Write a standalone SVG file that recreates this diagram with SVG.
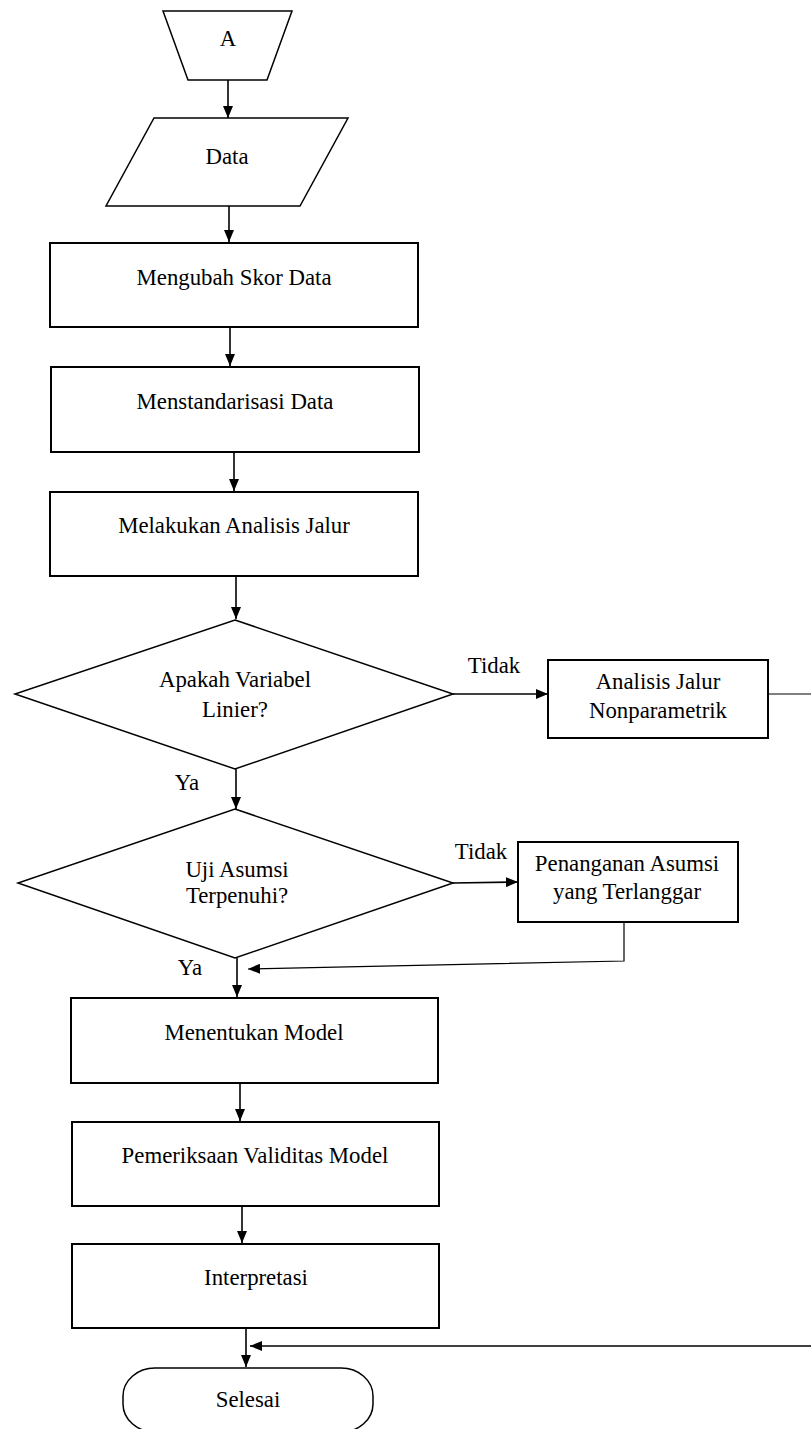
<svg xmlns="http://www.w3.org/2000/svg" width="811" height="1429" viewBox="0 0 811 1429">
<style>
.n{fill:#fff;stroke:#000;stroke-width:2}
.d{fill:#fff;stroke:#000;stroke-width:1.5}
.t{font-family:"Liberation Serif","Times New Roman",serif;font-size:22.8px;fill:#000;text-anchor:middle}
.c{fill:none;stroke:#000;stroke-width:1.6}
.thin{fill:none;stroke:#000;stroke-width:1.2}
</style>
<defs>
<marker id="ah" viewBox="0 0 12 10" refX="12" refY="5" markerWidth="12" markerHeight="10" markerUnits="userSpaceOnUse" orient="auto">
<path d="M0,0 L12,5 L0,10 Z" fill="#000"/>
</marker>
</defs>
<rect width="811" height="1429" fill="#fff"/>
<g id="connectors">
<line class="c" x1="228" y1="80" x2="228" y2="118" marker-end="url(#ah)"/>
<line class="c" x1="229" y1="206" x2="229" y2="242" marker-end="url(#ah)"/>
<line class="c" x1="230" y1="327" x2="230" y2="366" marker-end="url(#ah)"/>
<line class="c" x1="234" y1="452" x2="234" y2="491" marker-end="url(#ah)"/>
<line class="c" x1="236" y1="576" x2="236" y2="619" marker-end="url(#ah)"/>
<line class="c" x1="453" y1="694" x2="548" y2="694" marker-end="url(#ah)"/>
<line class="c" x1="236" y1="769" x2="236" y2="809" marker-end="url(#ah)"/>
<line class="c" x1="453" y1="883" x2="518" y2="882" marker-end="url(#ah)"/>
<polyline class="thin" points="624,922 624,961 248,969" marker-end="url(#ah)"/>
<line class="c" x1="237" y1="958" x2="237" y2="997" marker-end="url(#ah)"/>
<line class="c" x1="240" y1="1083" x2="240" y2="1121" marker-end="url(#ah)"/>
<line class="c" x1="242" y1="1206" x2="242" y2="1243" marker-end="url(#ah)"/>
<line class="c" x1="246" y1="1328" x2="246" y2="1367" marker-end="url(#ah)"/>
<polyline class="thin" points="768,694 814,694 814,1346" />
<polyline class="c" points="814,1346 250,1346" marker-end="url(#ah)"/>
</g>
<g id="start">
<polygon class="d" points="163,11 292,11 267,80 188,80"/>
<text class="t" x="228" y="46">A</text>
</g>
<g id="data">
<polygon class="d" points="154,118 348,118 300,206 106,206"/>
<text class="t" x="227" y="164">Data</text>
</g>
<g id="mengubah">
<rect class="n" x="50" y="243" width="368" height="84"/>
<text class="t" x="234" y="285">Mengubah Skor Data</text>
</g>
<g id="menstandarisasi">
<rect class="n" x="51" y="367" width="368" height="85"/>
<text class="t" x="235" y="409">Menstandarisasi Data</text>
</g>
<g id="melakukan">
<rect class="n" x="50" y="492" width="368" height="84"/>
<text class="t" x="234" y="533">Melakukan Analisis Jalur</text>
</g>
<g id="decision1">
<polygon class="d" points="235,620 453,694 235,769 15,694"/>
<text class="t" x="235" y="687">Apakah Variabel</text>
<text class="t" x="235" y="717">Linier?</text>
<text class="t" x="494" y="673">Tidak</text>
<text class="t" x="187" y="790">Ya</text>
</g>
<g id="nonparametrik">
<rect class="n" x="548" y="660" width="220" height="78"/>
<text class="t" x="658" y="689">Analisis Jalur</text>
<text class="t" x="658" y="718">Nonparametrik</text>
</g>
<g id="decision2">
<polygon class="d" points="235,809 453,883 235,958 18,883"/>
<text class="t" x="237" y="877">Uji Asumsi</text>
<text class="t" x="237" y="903">Terpenuhi?</text>
<text class="t" x="481" y="859">Tidak</text>
<text class="t" x="190" y="975">Ya</text>
</g>
<g id="penanganan">
<rect class="n" x="518" y="842" width="220" height="80"/>
<text class="t" x="627" y="871">Penanganan Asumsi</text>
<text class="t" x="627" y="899">yang Terlanggar</text>
</g>
<g id="menentukan">
<rect class="n" x="71" y="998" width="367" height="85"/>
<text class="t" x="254" y="1040">Menentukan Model</text>
</g>
<g id="pemeriksaan">
<rect class="n" x="72" y="1122" width="367" height="84"/>
<text class="t" x="255" y="1163">Pemeriksaan Validitas Model</text>
</g>
<g id="interpretasi">
<rect class="n" x="72" y="1244" width="367" height="84"/>
<text class="t" x="256" y="1285">Interpretasi</text>
</g>
<g id="selesai">
<rect class="d" x="123" y="1368" width="250" height="64" rx="32" ry="28"/>
<text class="t" x="248" y="1407">Selesai</text>
</g>
</svg>
